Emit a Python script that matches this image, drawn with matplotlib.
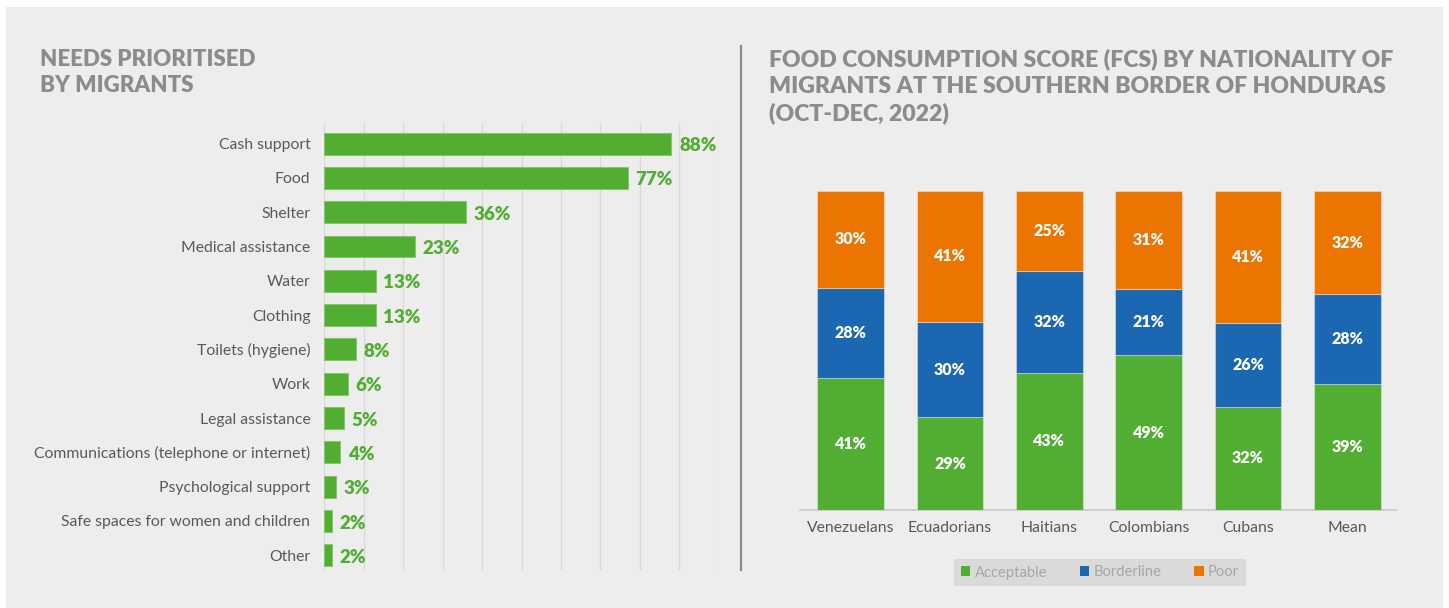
import matplotlib
matplotlib.use("Agg")
import matplotlib.pyplot as plt
from matplotlib.patches import Rectangle, Patch
from matplotlib.lines import Line2D
import numpy as np

plt.rcParams['font.family'] = ['Lato', 'DejaVu Sans']

# ---- Data: needs prioritised ----
needs = ["Cash support", "Food", "Shelter", "Medical assistance", "Water", "Clothing",
         "Toilets (hygiene)", "Work", "Legal assistance",
         "Communications (telephone or internet)", "Psychological support",
         "Safe spaces for women and children", "Other"]
need_pct = [88, 77, 36, 23, 13, 13, 8, 6, 5, 4, 3, 2, 2]

# ---- Data: FCS by nationality ----
nationalities = ["Venezuelans", "Ecuadorians", "Haitians", "Colombians", "Cubans", "Mean"]
acceptable = [41, 29, 43, 49, 32, 39]
borderline = [28, 30, 32, 21, 26, 28]
poor = [30, 41, 25, 31, 41, 32]
fcs_series = ["Acceptable", "Borderline", "Poor"]

left_title = ["NEEDS PRIORITISED", "BY MIGRANTS"]
right_title = ["FOOD CONSUMPTION SCORE (FCS) BY NATIONALITY OF",
               "MIGRANTS AT THE SOUTHERN BORDER OF HONDURAS",
               "(OCT-DEC, 2022)"]

GREEN = "#52ad33"
BLUE = "#1b67b2"
ORANGE = "#ec7400"
TITLE_C = "#8c8c8c"
LABEL_C = "#595959"
BG = "#ededed"

W, H = 1449, 608
fig = plt.figure(figsize=(W / 100, H / 100), dpi=100)
fig.patch.set_facecolor("white")
fig.add_artist(Rectangle((6 / W, 0), (1443 - 6) / W, (H - 7) / H, transform=fig.transFigure,
                         facecolor=BG, edgecolor="none", zorder=-10))

def fx(px):
    return px / W

def fy(py):
    return 1 - py / H

# separator
fig.add_artist(Line2D([fx(740.7), fx(740.7)], [fy(46), fy(570)], transform=fig.transFigure,
                      color="#8c8c8c", lw=1.6))

# titles
for i, line in enumerate(left_title):
    fig.text(fx(40), fy(66 + 26.5 * i), line, ha="left", va="baseline",
             fontsize=16, fontweight="heavy", color=TITLE_C)
for i, line in enumerate(right_title):
    fig.text(fx(769), fy(66 + 27 * i), line, ha="left", va="baseline",
             fontsize=16.6, fontweight="heavy", color=TITLE_C)

# ---- Left chart ----
axL = fig.add_axes([fx(324.3), fy(570), fx(718.7) - fx(324.3), fy(123) - fy(570)])
axL.set_facecolor("none")
y = np.arange(len(needs))
axL.barh(y, need_pct, height=0.64, color=GREEN, edgecolor="#86c56a", linewidth=0.8, zorder=3)
axL.set_xlim(0, 100)
axL.set_ylim(12.43, -0.60)
axL.set_xticks(np.arange(0, 101, 10))
axL.grid(axis="x", color="#d9d9d9", lw=1, zorder=0)
axL.tick_params(axis="x", length=0, labelbottom=False)
axL.tick_params(axis="y", length=0, pad=10)
axL.set_yticks(y)
axL.set_yticklabels(needs, fontsize=11.3, color=LABEL_C)
for s in axL.spines.values():
    s.set_visible(False)
for yi, v in zip(y, need_pct):
    axL.annotate(f"{v}%", (v, yi), xytext=(5.5, -1.5), textcoords="offset points",
                 ha="left", va="center", fontsize=13.5, fontweight="heavy", color=GREEN)

# ---- Right chart ----
axR = fig.add_axes([fx(800), fy(510), fx(1396) - fx(800), fy(191) - fy(510)])
axR.set_facecolor("none")
x = np.arange(len(nationalities))
vals = np.array([acceptable, borderline, poor], dtype=float)
totals = vals.sum(axis=0)
shares = vals / totals
colors = [GREEN, BLUE, ORANGE]
bottom = np.zeros(len(nationalities))
for i, (name, col) in enumerate(zip(fcs_series, colors)):
    axR.bar(x, shares[i], width=0.67, bottom=bottom, color=col, label=name,
            edgecolor=(1, 1, 1, 0.35), linewidth=0.8, zorder=3)
    for xi, b, h, v in zip(x, bottom, shares[i], vals[i]):
        axR.text(xi, b + h / 2, f"{int(v)}%", ha="center", va="center", fontsize=11.5,
                 fontweight="heavy", color="white", zorder=4)
    bottom += shares[i]
axR.set_xlim(-0.51, 5.49)
axR.set_ylim(0, 1)
axR.set_yticks([])
axR.set_xticks(x)
axR.set_xticklabels(nationalities, fontsize=11.3, color=LABEL_C)
axR.tick_params(axis="x", length=0, pad=8)
for k in ["top", "left", "right"]:
    axR.spines[k].set_visible(False)
axR.spines["bottom"].set_color("#c8c8c8")
axR.spines["bottom"].set_linewidth(1.2)

handles = [Patch(facecolor=c, edgecolor="none", label=n) for n, c in zip(fcs_series, colors)]
leg = fig.legend(handles=handles, loc="center", bbox_to_anchor=(fx(1100), fy(572.5)), ncol=3,
                 frameon=True, fancybox=False, facecolor="#dadada", edgecolor="none",
                 fontsize=10.6, handlelength=0.65, handleheight=0.65, handletextpad=0.3,
                 columnspacing=2.2, borderpad=0.45, borderaxespad=0)
leg.get_frame().set_alpha(1)
for t in leg.get_texts():
    t.set_color("#a6a6a6")

fig.savefig("out.png", dpi=100)
